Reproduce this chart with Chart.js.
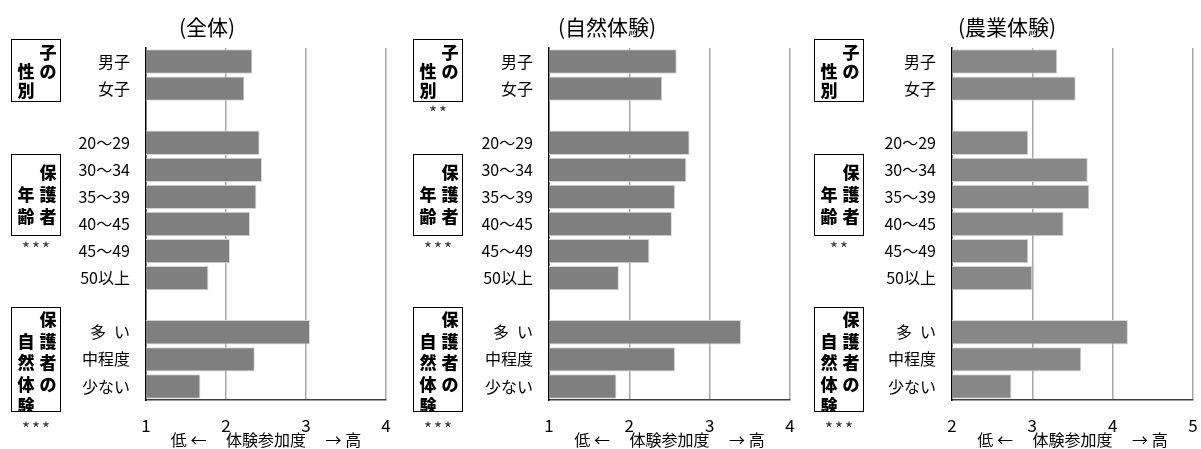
<!DOCTYPE html>
<html>
<head>
<meta charset="utf-8">
<title>体験参加度</title>
<script src="https://cdn.jsdelivr.net/npm/chart.js"></script>
<style>
body { margin: 0; background: #fff; font-family: "Noto Sans CJK JP", sans-serif; }
#wrap { position: relative; width: 1201px; height: 449px; }
.panel { position: absolute; top: 0; height: 449px; }
.ttl { position: absolute; top: 12px; left: 107px; width: 200px; text-align: center; font-size: 21px; line-height: 28px; }
.grp { position: absolute; border: 1.5px solid #000; box-sizing: border-box; overflow: hidden; }
.grp span { position: absolute; width: 18px; text-align: center; font-weight: 900; font-size: 17px; line-height: 18px; }
.star { position: absolute; width: 52px; text-align: center; font-size: 17px; color: #333; line-height: 16px; letter-spacing: 2px; }
</style>
</head>
<body>
<div id="wrap"></div>
<script>
const categories = ['男子', '女子', '', '20～29', '30～34', '35～39', '40～45', '45～49', '50以上', '', '多\u2002い', '中程度', '少ない'];
const titles = ['(全体)', '(自然体験)', '(農業体験)'];
const allValues = [2.33, 2.23, null, 2.42, 2.45, 2.38, 2.30, 2.05, 1.78, null, 3.05, 2.36, 1.68];
const natureValues = [2.59, 2.41, null, 2.75, 2.71, 2.57, 2.53, 2.25, 1.87, null, 3.39, 2.57, 1.84];
const farmValues = [3.31, 3.54, null, 2.95, 3.69, 3.71, 3.39, 2.95, 3.00, null, 4.19, 3.61, 2.74];
const axisMin = [1, 1, 2];
const axisMax = [4, 4, 5];
const groupRight = ['子の', '保護者', '保護者の'];
const groupLeft = ['性別', '年齢', '自然体験'];
const groupStars = [['', '***', '***'], ['**', '***', '***'], ['', '**', '***']];
const axisTitle = '低 ←\u3000 体験参加度\u3000 → 高';

// layout bits
const fam = '"Noto Sans CJK JP", sans-serif';
const panelX = [0, 400, 800];
const panelW = [400, 400, 401];
const yWidth = [146, 149, 152];
const rightPad = [14, 10, 8];
const boxX = [11, 13, 14];
const boxes = [
  { top: 39, h: 63, first: 3, pitch: 19 },
  { top: 154, h: 82, first: 8, pitch: 22 },
  { top: 307, h: 105, first: 2, pitch: 21.5 }
];
const starY = [104, 240, 420];
const barColors = ['#7f7f7f', '#7f7f7f', '#878787'];
const series = [allValues, natureValues, farmValues];

const wrap = document.getElementById('wrap');

series.forEach((vals, p) => {
  const panel = document.createElement('div');
  panel.className = 'panel';
  panel.style.left = panelX[p] + 'px';
  panel.style.width = panelW[p] + 'px';
  panel.innerHTML = '<canvas id="c' + p + '" width="' + panelW[p] + '" height="449"></canvas>';
  wrap.appendChild(panel);

  const t = document.createElement('div');
  t.className = 'ttl';
  t.textContent = titles[p];
  panel.appendChild(t);

  boxes.forEach((b, g) => {
    const box = document.createElement('div');
    box.className = 'grp';
    box.style.left = boxX[p] + 'px';
    box.style.top = b.top + 'px';
    box.style.width = '50px';
    box.style.height = b.h + 'px';
    [...groupRight[g]].forEach((ch, i) => {
      const s = document.createElement('span');
      s.textContent = ch;
      s.style.left = '27px';
      s.style.top = (b.first + i * b.pitch) + 'px';
      box.appendChild(s);
    });
    [...groupLeft[g]].forEach((ch, i) => {
      const s = document.createElement('span');
      s.textContent = ch;
      s.style.left = '5px';
      s.style.top = (b.first + (i + 1) * b.pitch) + 'px';
      box.appendChild(s);
    });
    panel.appendChild(box);

    if (groupStars[p][g]) {
      const st = document.createElement('div');
      st.className = 'star';
      st.textContent = groupStars[p][g];
      st.style.left = boxX[p] + 'px';
      st.style.top = starY[g] + 'px';
      panel.appendChild(st);
    }
  });

  const min = axisMin[p];
  new Chart(document.getElementById('c' + p), {
    type: 'bar',
    data: {
      labels: categories,
      datasets: [{
        data: vals,
        backgroundColor: barColors[p],
        borderColor: '#d6d6d6',
        borderWidth: 1,
        barPercentage: 0.9,
        categoryPercentage: 1
      }]
    },
    options: {
      indexAxis: 'y',
      responsive: false,
      animation: false,
      layout: { padding: { top: 48, right: rightPad[p], left: 0, bottom: 0 } },
      plugins: { legend: { display: false }, tooltip: { enabled: false } },
      scales: {
        x: {
          min: min,
          max: axisMax[p],
          ticks: { stepSize: 1, color: '#000', font: { size: 17, family: fam }, padding: 15 },
          grid: {
            color: c => (c.tick && c.tick.value === min) ? 'rgba(0,0,0,0)' : '#a6a6a6',
            lineWidth: 1.5,
            drawTicks: false
          },
          border: { color: '#404040', width: 1.5 },
          title: { display: true, text: axisTitle, color: '#000', font: { size: 16, family: fam }, padding: { top: 0, bottom: -1 } },
          afterFit: s => { s.height = 49; s.paddingRight = 0; s.paddingLeft = 0; }
        },
        y: {
          ticks: { color: '#000', font: { size: 16, family: fam }, padding: 16 },
          grid: { display: false, drawTicks: false },
          border: { color: '#000', width: 1.5 },
          afterFit: s => { s.width = yWidth[p]; }
        }
      }
    }
  });
});
</script>
</body>
</html>
